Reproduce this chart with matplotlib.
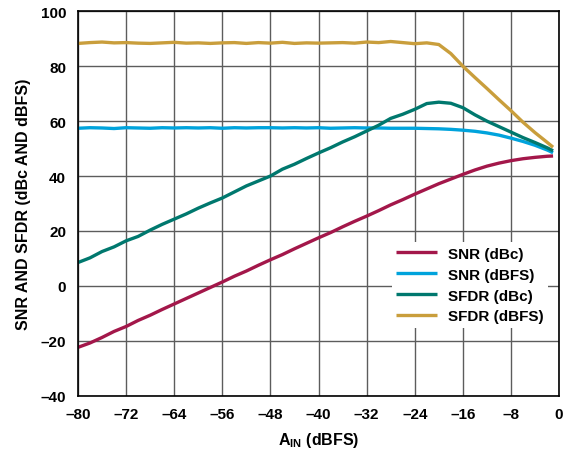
import matplotlib
matplotlib.use("Agg")
import matplotlib.pyplot as plt

plt.rcParams['font.family'] = ['Liberation Sans', 'DejaVu Sans']
plt.rcParams['font.weight'] = 'bold'
plt.rcParams['mathtext.fontset'] = 'custom'
plt.rcParams['mathtext.rm'] = 'Liberation Sans:bold'
plt.rcParams['mathtext.bf'] = 'Liberation Sans:bold'

ain = [-80, -78, -76, -74, -72, -70, -68, -66, -64, -62, -60, -58, -56, -54, -52, -50,
       -48, -46, -44, -42, -40, -38, -36, -34, -32, -30, -28, -26, -24, -22, -20, -18,
       -16, -14, -12, -10, -8, -6, -4, -2, -1]

snr_dbc = [-22.4, -20.8, -18.8, -16.6, -14.8, -12.6, -10.7, -8.6, -6.6, -4.6, -2.6, -0.6,
           1.4, 3.5, 5.4, 7.5, 9.5, 11.4, 13.5, 15.5, 17.5, 19.4, 21.5, 23.5, 25.4, 27.4,
           29.5, 31.4, 33.4, 35.3, 37.2, 38.9, 40.6, 42.2, 43.6, 44.7, 45.6, 46.3, 46.8,
           47.2, 47.3]

snr_dbfs = [57.4, 57.6, 57.5, 57.3, 57.6, 57.5, 57.4, 57.6, 57.5, 57.6, 57.5, 57.6, 57.4,
            57.6, 57.5, 57.6, 57.6, 57.5, 57.6, 57.5, 57.6, 57.4, 57.5, 57.6, 57.5, 57.5,
            57.4, 57.4, 57.4, 57.3, 57.2, 57.0, 56.7, 56.3, 55.7, 54.9, 53.8, 52.6, 51.2,
            49.5, 48.5]

sfdr_dbc = [8.5, 10.2, 12.5, 14.2, 16.4, 18.0, 20.3, 22.4, 24.3, 26.2, 28.3, 30.2, 32.0,
            34.2, 36.4, 38.2, 40.0, 42.5, 44.3, 46.4, 48.4, 50.3, 52.4, 54.3, 56.4, 58.5,
            61.0, 62.5, 64.3, 66.4, 66.9, 66.5, 64.9, 62.3, 60.0, 58.0, 56.0, 54.0, 52.2,
            50.3, 49.2]

sfdr_dbfs = [88.3, 88.6, 88.8, 88.5, 88.6, 88.4, 88.3, 88.5, 88.7, 88.4, 88.5, 88.3, 88.5,
             88.6, 88.3, 88.6, 88.4, 88.7, 88.3, 88.5, 88.4, 88.5, 88.6, 88.4, 88.8, 88.6,
             89.0, 88.6, 88.2, 88.5, 87.9, 84.6, 80.0, 75.9, 71.9, 67.8, 63.8, 59.6, 55.8,
             52.3, 50.5]

series_labels = ['SNR (dBc)', 'SNR (dBFS)', 'SFDR (dBc)', 'SFDR (dBFS)']
series_colors = ['#A3174A', '#00A3DC', '#00786E', '#C99E3C']

xticks = [-80, -72, -64, -56, -48, -40, -32, -24, -16, -8, 0]
xticklabels = ['–80', '–72', '–64', '–56', '–48', '–40', '–32', '–24', '–16', '–8', '0']
yticks = [-40, -20, 0, 20, 40, 60, 80, 100]
yticklabels = ['–40', '–20', '0', '20', '40', '60', '80', '100']

fig = plt.figure(figsize=(5.68, 4.52), dpi=100)
ax = fig.add_axes([0.1373, 0.1224, 0.847, 0.8504])

for ys, lab, col in zip([snr_dbc, snr_dbfs, sfdr_dbc, sfdr_dbfs], series_labels, series_colors):
    ax.plot(ain, ys, color=col, lw=2.4, label=lab, solid_capstyle='butt')

ax.set_xlim(-80, 0)
ax.set_ylim(-40, 100)
ax.set_xticks(xticks)
ax.set_xticklabels(xticklabels)
ax.set_yticks(yticks)
ax.set_yticklabels(yticklabels)
ax.tick_params(length=0, labelsize=11, pad=8.5)
ax.grid(True, color='#5c5c5c', lw=1.0)
ax.set_axisbelow(True)
for s in ax.spines.values():
    s.set_color('black')
    s.set_linewidth(1.2)

ax.set_xlabel(r'A$_{\mathrm{IN}}$ (dBFS)', fontsize=11.5, fontweight='bold', labelpad=6)
ax.set_ylabel('SNR AND SFDR (dBc AND dBFS)', fontsize=11.5, fontweight='bold', labelpad=7)

leg = ax.legend(loc='upper left', bbox_to_anchor=(0.636, 0.419), frameon=True,
                facecolor='white', edgecolor='none', framealpha=1, fancybox=False,
                fontsize=11, handlelength=2.65, handletextpad=0.72, labelspacing=0.45,
                borderpad=0.3)
for t in leg.get_texts():
    t.set_fontweight('bold')

fig.savefig('out.png', dpi=100)
